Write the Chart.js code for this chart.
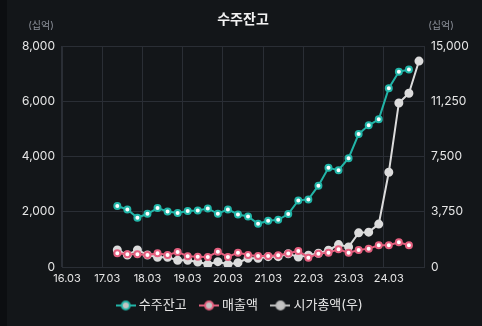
<!DOCTYPE html>
<html>
<head>
<meta charset="utf-8">
<script src="https://cdn.jsdelivr.net/npm/chart.js@4/dist/chart.umd.min.js"></script>
<style>
  html, body { margin: 0; padding: 0; background: #131619; }
  #wrap { width: 482px; height: 326px; position: relative; }
</style>
</head>
<body>
<div id="wrap"><canvas id="chart" width="482" height="326"></canvas></div>
<script>
// quarters 16.03 .. 24.12
const quarters = [
  '16.03','16.06','16.09','16.12','17.03','17.06','17.09','17.12',
  '18.03','18.06','18.09','18.12','19.03','19.06','19.09','19.12',
  '20.03','20.06','20.09','20.12','21.03','21.06','21.09','21.12',
  '22.03','22.06','22.09','22.12','23.03','23.06','23.09','23.12',
  '24.03','24.06','24.09','24.12'
];

// 수주잔고 (left axis, 십억)
const backlog = [
  null, null, null, null, null,
  2207, 2084, 1782, 1927, 2134, 2011, 1953, 2025, 2047, 2120,
  1927, 2084, 1902, 1829, 1564, 1673, 1709, 1916, 2411, 2447,
  2945, 3589, 3502, 3938, 4811, 5127, 5345, 6473, 7065, 7152,
  null
];

// 매출액 (left axis, 십억)
const sales = [
  null, null, null, null, null,
  500, 460, 462, 436, 498, 436, 545, 389, 375, 364,
  556, 364, 520, 436, 400, 400, 425, 490, 582, 338,
  484, 520, 644, 520, 618, 665, 789, 789, 898, 789,
  null
];

// 시가총액 (right axis, 십억)
const marketCap = [
  null, null, null, null, null,
  1159, 818, 1159, 818, 661, 661, 457, 457, 341, 184,
  361, 184, 293, 593, 593, 702, 702, 900, 682, 798,
  934, 1139, 1520, 1364, 2318, 2366, 2911, 6429, 11134, 11795,
  13977
];

const leftTicks = [0, 2000, 4000, 6000, 8000];
const rightTicks = [0, 3750, 7500, 11250, 15000];

const FONT = 'Inter, "Noto Sans CJK KR", sans-serif';
const TEAL = '#22b5a8';
const PINK = '#e4607f';
const GREY = '#dcdcdc';
const GRID = '#2a2e35';

function legendIcon(color) {
  const c = document.createElement('canvas');
  c.width = 20; c.height = 12;
  const g = c.getContext('2d');
  g.strokeStyle = color;
  g.lineWidth = 2;
  g.beginPath(); g.moveTo(0, 6); g.lineTo(20, 6); g.stroke();
  g.fillStyle = '#c4c4c4';
  g.beginPath(); g.arc(10, 6, 4, 0, Math.PI * 2); g.fill(); g.stroke();
  return c;
}
const icons = [legendIcon(TEAL), legendIcon(PINK), legendIcon('#bdbdbd')];

const backdrop = {
  id: 'backdrop',
  beforeDraw(chart) {
    const ctx = chart.ctx;
    ctx.save();
    ctx.fillStyle = '#131619';
    ctx.fillRect(0, 0, chart.width, chart.height);
    ctx.fillStyle = '#0c0e11';
    ctx.fillRect(0, 0, 7, chart.height);
    ctx.restore();
  },
  afterDraw(chart) {
    const ctx = chart.ctx;
    ctx.save();
    ctx.fillStyle = '#f2f2f2';
    ctx.font = 'bold 14px ' + FONT;
    ctx.textAlign = 'center';
    ctx.textBaseline = 'middle';
    ctx.fillText('수주잔고', 243, 20);
    ctx.fillStyle = '#8b9099';
    ctx.font = '10px ' + FONT;
    ctx.fillText('(십억)', 41, 26);
    ctx.fillText('(십억)', 441, 26);
    ctx.restore();
  }
};

const lineOpts = (color, fill, radius) => ({
  borderColor: color,
  backgroundColor: color,
  pointStyle: 'circle',
  pointBackgroundColor: fill,
  pointBorderColor: color,
  pointBorderWidth: 2,
  pointRadius: radius,
  borderWidth: 2,
  tension: 0,
  spanGaps: false
});

new Chart(document.querySelector('#chart'), {
  type: 'line',
  data: {
    labels: quarters,
    datasets: [
      Object.assign({ label: '수주잔고', data: backlog, yAxisID: 'y' }, lineOpts(TEAL, '#ffffff', 3)),
      Object.assign({ label: '매출액', data: sales, yAxisID: 'y' }, lineOpts(PINK, '#ffffff', 3)),
      Object.assign({ label: '시가총액(우)', data: marketCap, yAxisID: 'y1' }, lineOpts(GREY, GREY, 3.5))
    ]
  },
  options: {
    responsive: false,
    animation: false,
    layout: { padding: { top: 46, left: 0, right: 0, bottom: 4 } },
    plugins: {
      legend: {
        position: 'bottom',
        labels: {
          color: '#e6e6e6',
          font: { family: FONT, size: 13 },
          usePointStyle: true,
          padding: 16,
          generateLabels(chart) {
            return chart.data.datasets.map((ds, i) => ({
              text: ds.label,
              pointStyle: icons[i],
              fontColor: '#e6e6e6',
              strokeStyle: ds.borderColor,
              fillStyle: ds.backgroundColor,
              lineWidth: 0,
              hidden: false,
              datasetIndex: i
            }));
          }
        }
      },
      tooltip: { enabled: false }
    },
    scales: {
      x: {
        type: 'category',
        offset: true,
        afterFit(scale) { scale.height = 16; },
        grid: {
          offset: true,
          drawTicks: false,
          color: ctx => (ctx.index % 4 === 0 ? GRID : 'rgba(0,0,0,0)'),
          lineWidth: 1
        },
        border: { color: GRID },
        ticks: {
          color: '#e6e6e6',
          font: { family: FONT, size: 11 },
          autoSkip: false,
          maxRotation: 0,
          padding: 5,
          callback(v, i) { const l = quarters[i]; return l.endsWith('.03') ? l : ''; }
        }
      },
      y: {
        position: 'left',
        min: 0, max: 8000,
        afterFit(scale) { scale.width = 62; },
        afterBuildTicks(scale) { scale.ticks = leftTicks.map(v => ({ value: v })); },
        grid: { color: GRID, drawTicks: false },
        border: { color: GRID },
        ticks: {
          color: '#e6e6e6',
          font: { family: FONT, size: 12 },
          padding: 7,
          callback: v => v.toLocaleString('en-US')
        }
      },
      y1: {
        position: 'right',
        min: 0, max: 15000,
        afterFit(scale) { scale.width = 58; },
        afterBuildTicks(scale) { scale.ticks = rightTicks.map(v => ({ value: v })); },
        grid: { display: false, drawTicks: false },
        border: { color: GRID },
        ticks: {
          color: '#e6e6e6',
          font: { family: FONT, size: 12 },
          padding: 7,
          callback: v => v.toLocaleString('en-US')
        }
      }
    }
  },
  plugins: [backdrop]
});
</script>
</body>
</html>
